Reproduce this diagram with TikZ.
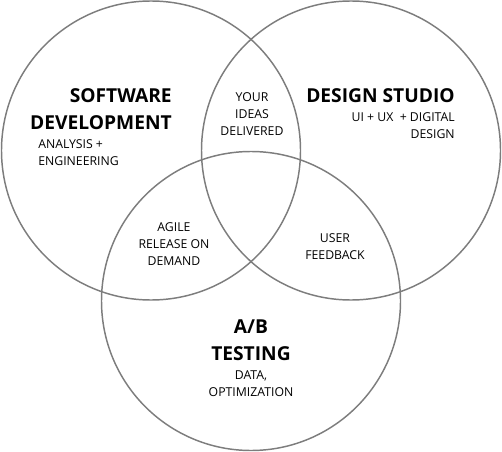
\documentclass[tikz,border=0pt]{standalone}
\usepackage{fontspec}
\setmainfont{Open Sans}
\definecolor{ringgray}{RGB}{125,125,125}

\begin{document}
\begin{tikzpicture}[x=0.75pt,y=0.75pt,yscale=-1,xscale=1,
    ring/.style={draw=ringgray,line width=1.1pt},
    title/.style={inner sep=0pt,font=\fontsize{14.4}{20.25}\selectfont\bfseries},
    sub/.style={inner sep=0pt,font=\fontsize{9.2}{12.75}\selectfont}]
\useasboundingbox (0,0) rectangle (502,452);
% circles
\draw [ring] (151,150.5) circle [radius=149.5];
\draw [ring] (351,150.5) circle [radius=149.5];
\draw [ring] (251,301) circle [radius=149.5];
% titles
\node (soft) [title,anchor=east,align=right] at (172,109.5) {SOFTWARE\\DEVELOPMENT};
\node (design) [title,anchor=east,align=right] at (455,96) {DESIGN STUDIO};
\node (ab) [title,align=center] at (251,340.5) {A/B\\TESTING};
% descriptions
\node (softsub) [sub,anchor=west,align=left] at (38,152.5) {ANALYSIS +\\ENGINEERING};
\node (designsub) [sub,anchor=east,align=right] at (455,126) {UI + UX\ \ + DIGITAL\\DESIGN};
\node (absub) [sub,align=center] at (251,384) {DATA,\\OPTIMIZATION};
% overlaps
\node (ideas) [sub,align=center] at (252,114.5) {YOUR\\IDEAS\\DELIVERED};
\node (agile) [sub,align=center] at (174,244.5) {AGILE\\RELEASE ON\\DEMAND};
\node (user) [sub,align=center] at (335,247) {USER\\FEEDBACK};
\end{tikzpicture}
\end{document}
